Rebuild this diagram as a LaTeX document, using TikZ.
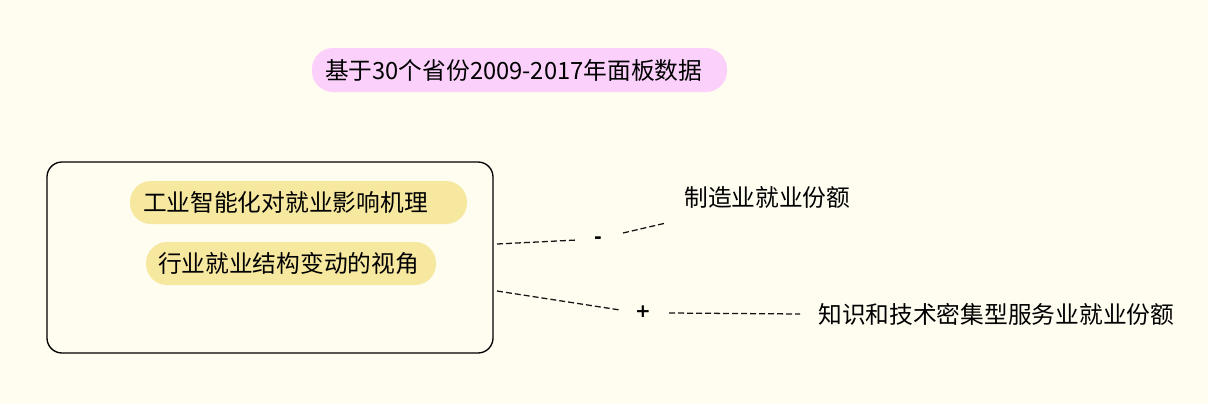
\documentclass[tikz,border=0pt]{standalone}
\usepackage{fontspec}
\setmainfont{Noto Sans CJK SC}
\newfontfamily\signfont{DejaVu Sans}
\definecolor{bgcol}{RGB}{255,252,240}
\definecolor{pinkfill}{RGB}{251,209,251}
\definecolor{yellowfill}{RGB}{247,232,160}
\definecolor{linecol}{RGB}{20,20,20}
\tikzset{
  pill/.style={fill=#1, draw=none, rounded corners=15.75pt, minimum height=32.25pt, align=left, inner ysep=0pt, font=\fontsize{17.8}{20}\selectfont},
  lbl/.style={anchor=west, inner sep=0pt, font=\fontsize{17.8}{20}\selectfont},
  sign/.style={inner sep=0pt, font=\signfont\bfseries\fontsize{14}{16}\selectfont},
  dashline/.style={draw=linecol, line width=0.95pt, dash pattern=on 4.5pt off 2.25pt},
}
\begin{document}
\begin{tikzpicture}[x=0.75pt,y=-0.75pt]
\useasboundingbox[fill=bgcol] (0,0) rectangle (1208,404);
% title
\node[pill=pinkfill, text width=291.75pt, inner xsep=9.75pt, minimum width=311.25pt, minimum height=33pt] (title) at (519.5,70) {基于30个省份2009-2017年面板数据};
% main box
\node[draw=black, line width=1pt, rounded corners=11.25pt, minimum width=334.5pt, minimum height=143.25pt, inner sep=0pt] (box) at (270,257.5) {};
\node[pill=yellowfill, text width=233.25pt, inner xsep=9.75pt, minimum width=252.75pt] (p1) at (298.5,202.5) {工业智能化对就业影响机理};
\node[pill=yellowfill, text width=199.5pt, inner xsep=9pt, minimum width=217.5pt] (p2) at (291,263.5) {行业就业结构变动的视角};
% labels
\node[lbl] (manu) at (684,198) {制造业就业份额};
\node[lbl] (serv) at (818,314) {知识和技术密集型服务业就业份额};
\node[sign] (minus) at (598,240) {-};
\node[sign] (plus) at (643,312) {+};
% connector end points
\coordinate (a1) at (497,244);
\coordinate (a2) at (577,240);
\coordinate (a3) at (623,233);
\coordinate (a4) at (666,223);
\coordinate (b1) at (497,291);
\coordinate (b2) at (620,310);
\coordinate (b3) at (669,313);
\coordinate (b4) at (800,314);
\draw[dashline] (a1) -- (a2);
\draw[dashline] (a3) -- (a4);
\draw[dashline] (b1) -- (b2);
\draw[dashline] (b3) -- (b4);
\end{tikzpicture}
\end{document}
